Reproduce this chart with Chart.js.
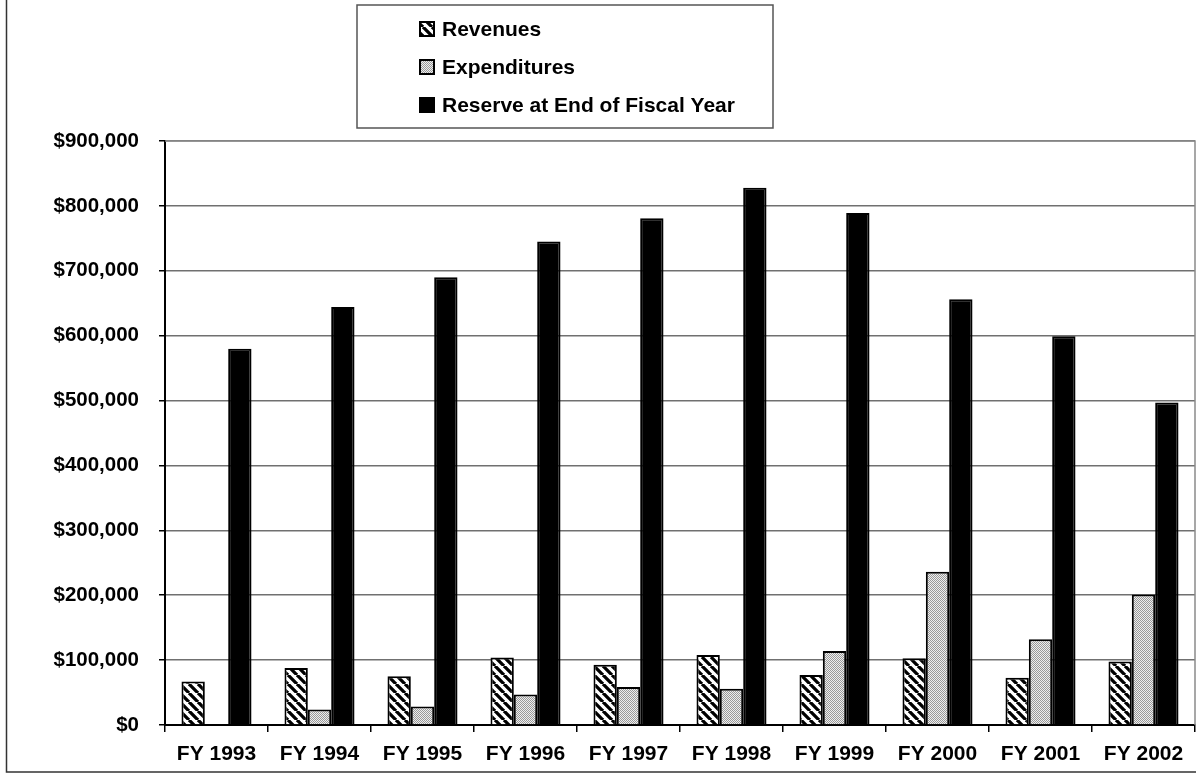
<!DOCTYPE html>
<html>
<head>
<meta charset="utf-8">
<script src="https://cdn.jsdelivr.net/npm/chart.js@4/dist/chart.umd.min.js"></script>
<style>
  html, body { margin: 0; padding: 0; background: #ffffff; }
  #wrap { width: 1196px; height: 776px; position: relative; }
</style>
</head>
<body>
<div id="wrap"><canvas id="c" width="1196" height="776"></canvas></div>
<script>
// Fiscal years shown along the x axis
const categories = ['FY 1993', 'FY 1994', 'FY 1995', 'FY 1996', 'FY 1997',
                    'FY 1998', 'FY 1999', 'FY 2000', 'FY 2001', 'FY 2002'];

// Dollar amounts per fiscal year
const revenues     = [67000, 88000, 75000, 104000, 93000, 108000, 77000, 103000, 73000, 98000];
const expenditures = [1500, 24000, 28500, 47000, 58500, 56000, 114000, 236000, 132000, 201000];
const reserve      = [580000, 644000, 690000, 745000, 781000, 828000, 789000, 656000, 599000, 497000];

const seriesNames = ['Revenues', 'Expenditures', 'Reserve at End of Fiscal Year'];

// Value axis range
const yMin = 0;
const yMax = 900000;
const yStep = 100000;

const FONT = '"Liberation Sans", Arial, sans-serif';

// Back-slash hatching for revenues
function makeHatch() {
  const s = 9;
  const c = document.createElement('canvas');
  c.width = s; c.height = s;
  const g = c.getContext('2d');
  g.fillStyle = '#ffffff';
  g.fillRect(0, 0, s, s);
  g.strokeStyle = '#000000';
  g.lineWidth = 3.3;
  g.beginPath();
  for (const k of [-s, 0, s]) {
    g.moveTo(k, 0);
    g.lineTo(k + s, s);
  }
  g.stroke();
  return g.createPattern(c, 'repeat');
}

// Fine grey stipple for expenditures
function makeStipple() {
  const c = document.createElement('canvas');
  c.width = 2; c.height = 2;
  const g = c.getContext('2d');
  g.fillStyle = '#eeeeee';
  g.fillRect(0, 0, 2, 2);
  g.fillStyle = '#999999';
  g.fillRect(0, 0, 1, 1);
  g.fillRect(1, 1, 1, 1);
  return g.createPattern(c, 'repeat');
}

const hatch = makeHatch();
const stipple = makeStipple();

// Outer frame, plot border and the boxed legend
const decorations = {
  id: 'decorations',
  afterDraw(chart) {
    const ctx = chart.ctx;
    const a = chart.chartArea;
    ctx.save();

    // plot-area border (top and right)
    ctx.strokeStyle = '#8a8a8a';
    ctx.lineWidth = 1.5;
    ctx.beginPath();
    ctx.moveTo(a.left, a.top);
    ctx.lineTo(a.right, a.top);
    ctx.lineTo(a.right, a.bottom);
    ctx.stroke();

    // outer frame (left and bottom edges)
    ctx.strokeStyle = '#333333';
    ctx.lineWidth = 1.5;
    ctx.beginPath();
    ctx.moveTo(6.5, 0);
    ctx.lineTo(6.5, 772);
    ctx.lineTo(1196, 772);
    ctx.stroke();

    // legend box
    const lx = 357, ly = 5, lw = 416, lh = 123;
    ctx.fillStyle = '#ffffff';
    ctx.fillRect(lx, ly, lw, lh);
    ctx.strokeStyle = '#555555';
    ctx.lineWidth = 1.5;
    ctx.strokeRect(lx, ly, lw, lh);

    const rows = [29, 67, 105];
    ctx.font = 'bold 21px ' + FONT;
    ctx.textBaseline = 'middle';
    ctx.textAlign = 'left';
    chart.data.datasets.forEach((ds, i) => {
      const y = rows[i];
      const sx = 420, sz = 14;
      ctx.fillStyle = ds.backgroundColor;
      ctx.fillRect(sx, y - sz / 2, sz, sz);
      ctx.strokeStyle = '#000000';
      ctx.lineWidth = 2;
      ctx.strokeRect(sx, y - sz / 2, sz, sz);
      ctx.fillStyle = '#000000';
      ctx.fillText(ds.label, 442, y + 1);
    });
    ctx.restore();
  }
};

new Chart(document.getElementById('c'), {
  type: 'bar',
  data: {
    labels: categories,
    datasets: [
      { label: seriesNames[0], data: revenues, backgroundColor: hatch,
        borderColor: '#000000', borderWidth: 2 },
      { label: seriesNames[1], data: expenditures, backgroundColor: stipple,
        borderColor: '#000000', borderWidth: 2 },
      { label: seriesNames[2], data: reserve, backgroundColor: '#000000',
        borderColor: '#000000', borderWidth: 2 }
    ]
  },
  options: {
    responsive: false,
    animation: false,
    events: [],
    devicePixelRatio: 1,
    layout: { padding: { top: 141, right: 1, left: 0, bottom: 0 } },
    datasets: { bar: { categoryPercentage: 0.68, barPercentage: 1.0 } },
    plugins: {
      legend: { display: false },
      tooltip: { enabled: false }
    },
    scales: {
      x: {
        grid: { display: true, drawOnChartArea: false, drawTicks: true,
                tickLength: 7, color: '#000000', lineWidth: 1.5, offset: true },
        border: { display: true, color: '#000000', width: 2 },
        ticks: { color: '#000000', font: { family: FONT, size: 21, weight: 'bold' },
                 padding: 10, maxRotation: 0, autoSkip: false },
        afterFit(scale) { scale.height = 51; }
      },
      y: {
        min: yMin, max: yMax,
        grid: { color: '#707070', lineWidth: 1.5, drawTicks: true, tickLength: 6,
                tickColor: '#000000' },
        border: { display: true, color: '#000000', width: 2 },
        ticks: {
          stepSize: yStep,
          color: '#000000',
          font: { family: FONT, size: 20.5, weight: 'bold' },
          padding: 20,
          callback: v => '$' + Number(v).toLocaleString('en-US')
        },
        afterFit(scale) { scale.width = 165; }
      }
    }
  },
  plugins: [decorations]
});
</script>
</body>
</html>
